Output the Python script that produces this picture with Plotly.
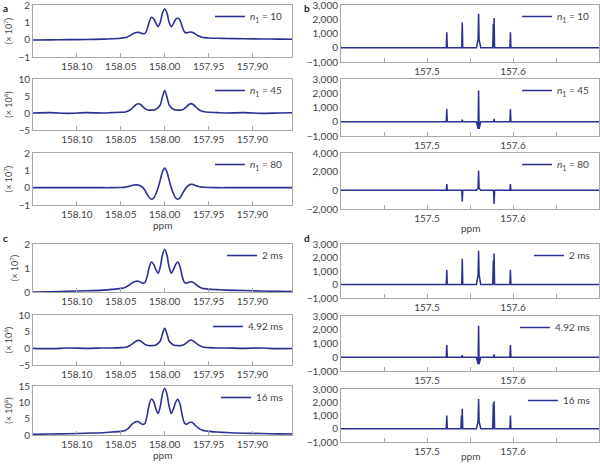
import plotly.graph_objects as go

# ---------------- data ----------------
PPM_L = [158.15, 158.13, 158.11, 158.09, 158.07, 158.06, 158.05,
         158.045, 158.0425, 158.04, 158.0375, 158.035, 158.0325, 158.03, 158.0275, 158.025, 158.0225,
         158.02, 158.0175, 158.015, 158.0125, 158.01, 158.0075, 158.005, 158.0025, 158.00,
         157.9975, 157.995, 157.9925, 157.99, 157.9875, 157.985, 157.9825, 157.98, 157.9775,
         157.975, 157.9725, 157.97, 157.9675, 157.965, 157.9625, 157.96, 157.9575, 157.955,
         157.95, 157.94, 157.93, 157.91, 157.89, 157.87, 157.85]

A1 = [-0.02, -0.01, 0.0, 0.01, 0.03, 0.05, 0.08,
      0.12, 0.16, 0.22, 0.30, 0.37, 0.41, 0.42, 0.39, 0.35, 0.36,
      0.60, 1.05, 1.29, 1.20, 0.95, 0.76, 1.00, 1.55, 1.77,
      1.55, 1.00, 0.75, 0.93, 1.17, 1.25, 1.12, 0.75, 0.45,
      0.39, 0.43, 0.44, 0.40, 0.32, 0.24, 0.18, 0.14, 0.12,
      0.10, 0.08, 0.07, 0.05, 0.04, 0.03, 0.02]
A2 = [0.0, 0.1, -0.1, 0.1, 0.0, 0.1, 0.2,
      0.3, 0.5, 0.8, 1.3, 1.9, 2.5, 2.7, 2.5, 1.9, 1.3,
      0.95, 0.85, 0.85, 0.9, 1.1, 1.6, 2.4, 4.8, 6.6,
      4.8, 2.4, 1.6, 1.1, 0.9, 0.85, 0.85, 0.95, 1.3,
      1.9, 2.5, 2.75, 2.5, 1.9, 1.3, 0.8, 0.5, 0.35,
      0.2, 0.1, 0.0, 0.1, -0.1, 0.0, 0.1]
A3 = [0.0, 0.0, 0.0, 0.0, 0.0, 0.0, 0.01,
      0.03, 0.06, 0.09, 0.13, 0.15, 0.16, 0.15, 0.10, 0.02, -0.15,
      -0.38, -0.58, -0.67, -0.60, -0.35, 0.0, 0.45, 0.92, 1.13,
      0.92, 0.45, 0.0, -0.35, -0.60, -0.67, -0.58, -0.38, -0.15,
      0.03, 0.14, 0.20, 0.18, 0.13, 0.08, 0.05, 0.03, 0.02,
      0.01, 0.0, 0.0, 0.0, 0.0, 0.0, 0.0]
C1 = [0.0, 0.01, 0.03, 0.05, 0.08, 0.11, 0.15,
      0.19, 0.24, 0.30, 0.37, 0.42, 0.45, 0.45, 0.41, 0.37, 0.40,
      0.65, 1.05, 1.25, 1.15, 0.93, 0.78, 1.05, 1.55, 1.78,
      1.55, 1.05, 0.78, 0.93, 1.15, 1.25, 1.05, 0.65, 0.40,
      0.37, 0.41, 0.43, 0.40, 0.33, 0.26, 0.20, 0.16, 0.14,
      0.12, 0.10, 0.08, 0.06, 0.04, 0.03, 0.02]
C2 = [0.0, -0.1, 0.1, 0.0, 0.1, 0.1, 0.2,
      0.3, 0.5, 0.8, 1.2, 1.7, 2.2, 2.4, 2.2, 1.7, 1.2,
      0.9, 0.8, 0.8, 0.85, 1.0, 1.5, 2.2, 4.4, 6.0,
      4.4, 2.2, 1.5, 1.0, 0.85, 0.8, 0.8, 0.9, 1.2,
      1.7, 2.2, 2.5, 2.2, 1.7, 1.2, 0.8, 0.5, 0.35,
      0.2, 0.1, 0.1, 0.0, 0.1, -0.1, 0.0]
C3 = [0.2, 0.3, 0.4, 0.55, 0.7, 0.9, 1.1,
      1.4, 1.8, 2.4, 3.2, 3.8, 4.1, 4.1, 3.6, 3.2, 3.6,
      6.0, 9.5, 11.0, 10.2, 8.0, 6.6, 8.8, 12.6, 14.3,
      12.6, 8.8, 6.6, 8.0, 10.1, 10.9, 9.4, 6.0, 3.7,
      3.3, 3.7, 4.0, 3.6, 2.9, 2.3, 1.8, 1.5, 1.3,
      1.1, 0.9, 0.75, 0.55, 0.45, 0.35, 0.3]

# right-hand spectra: peak positions, peak heights, base blob heights, twin-peak heights
SPIKE_PPM = [157.523, 157.541, 157.560, 157.578, 157.597]
B1_H = [1080, 1780, 2380, 2080, 1080]; B1_S = [0, 0, 560, 0, 0]; B1_T = [0, 0, 0, 1690, 0]
B2_H = [900, 150, 2200, 200, 900];    B2_S = [0, 0, -500, 0, 0]; B2_T = [0, 0, 0, 0, 0]
B3_H = [670, -1200, 2090, -1450, 670]; B3_S = [0, 0, 200, 0, 0]; B3_T = [0, 0, 0, 0, 0]
D1_H = [1090, 1910, 2490, 2290, 1090]; D1_S = [0, 0, 710, 0, 0]; D1_T = [0, 0, 0, 1780, 0]
D2_H = [890, 150, 2290, 200, 890];    D2_S = [0, 0, -500, 0, 0]; D2_T = [0, 0, 0, 0, 0]
D3_H = [1000, 1500, 2250, 2070, 1000]; D3_S = [0, 0, 560, 0, 0]; D3_T = [0, 1000, 0, 1900, 0]

LABELS_N = ["<i>n</i><sub>1</sub> = 10", "<i>n</i><sub>1</sub> = 45", "<i>n</i><sub>1</sub> = 80"]
LABELS_T = ["2 ms", "4.92 ms", "16 ms"]

XT_L = [158.10, 158.05, 158.00, 157.95, 157.90]
XT_L_TXT = ["158.10", "158.05", "158.00", "157.95", "157.90"]
XT_R = [157.45, 157.5, 157.55, 157.6, 157.65]
XT_R_TXT = ["", "157.5", "", "157.6", ""]

YT_A1 = [-1, 0, 1, 2]
YT_A2 = [-5, 0, 5, 10]
YT_C1 = [0, 1, 2]
YT_C3 = [0, 5, 10, 15]
YT_B = [-1000, 0, 1000, 2000, 3000]
YT_B3 = [-2000, 0, 2000, 4000]

# ---------------- styling / layout ----------------
W, H = 600, 464
COLOR = "#2b3190"
FONT = "Lato"
TXT = "#444444"
FRAME = "#a8a8a8"

LEFT_X = (33, 292)
RIGHT_X = (341, 599)
LEFT_ROWS = [(5, 57), (79, 130), (153, 205), (244, 292), (315, 365), (386, 435)]
RIGHT_ROWS = [(5, 62), (79, 136), (153, 209), (244, 298), (316, 371), (389, 442)]
PPM_Y = {("L", 2): 225, ("L", 5): 455, ("R", 2): 228, ("R", 5): 456}


def spikes(hs, ss, ts):
    xs, ys = [157.40], [0]
    for p, h, s, t in zip(SPIKE_PPM, hs, ss, ts):
        if t:
            xs += [p - 0.0016, p - 0.0009, p - 0.0005]
            ys += [0, t, 0]
        if s:
            xs += [p - 0.0025, p - 0.0006, p, p + 0.0006, p + 0.0025]
            ys += [0, s, h, s, 0]
        else:
            xs += [p - 0.0006, p, p + 0.0006]
            ys += [0, h, 0]
    xs.append(157.70)
    ys.append(0)
    return xs, ys


panels = [
    # side, row, x, y, yrange, yticks, ytitle, label
    ("L", 0, PPM_L, A1, [-1, 2], YT_A1, "(× 10<sup>7</sup>)", LABELS_N[0]),
    ("L", 1, PPM_L, A2, [-5, 10], YT_A2, "(× 10<sup>6</sup>)", LABELS_N[1]),
    ("L", 2, PPM_L, A3, [-1, 2], YT_A1, "(× 10<sup>7</sup>)", LABELS_N[2]),
    ("L", 3, PPM_L, C1, [0, 2], YT_C1, "(× 10<sup>7</sup>)", LABELS_T[0]),
    ("L", 4, PPM_L, C2, [-5, 10], YT_A2, "(× 10<sup>6</sup>)", LABELS_T[1]),
    ("L", 5, PPM_L, C3, [0, 15], YT_C3, "(× 10<sup>6</sup>)", LABELS_T[2]),
]
for row, (hs, ss, ts), yr, yt, lab in [
    (0, (B1_H, B1_S, B1_T), [-1000, 3000], YT_B, LABELS_N[0]),
    (1, (B2_H, B2_S, B2_T), [-1000, 3000], YT_B, LABELS_N[1]),
    (2, (B3_H, B3_S, B3_T), [-2000, 4000], YT_B3, LABELS_N[2]),
    (3, (D1_H, D1_S, D1_T), [-1000, 3000], YT_B, LABELS_T[0]),
    (4, (D2_H, D2_S, D2_T), [-1000, 3000], YT_B, LABELS_T[1]),
    (5, (D3_H, D3_S, D3_T), [-1000, 3000], YT_B, LABELS_T[2]),
]:
    xs, ys = spikes(hs, ss, ts)
    panels.append(("R", row, xs, ys, yr, yt, None, lab))

fig = go.Figure()
layout = dict(width=W, height=H, margin=dict(l=0, r=0, t=0, b=0, autoexpand=False),
              paper_bgcolor="white", plot_bgcolor="white",
              font=dict(family=FONT, size=10, color=TXT),
              showlegend=True, separators=".,")

annos = []
for i, (side, row, xs, ys, yr, yt, ytitle, lab) in enumerate(panels):
    n = i + 1
    sfx = "" if n == 1 else str(n)
    xpx = LEFT_X if side == "L" else RIGHT_X
    ypx = (LEFT_ROWS if side == "L" else RIGHT_ROWS)[row]
    xdom = [xpx[0] / W, xpx[1] / W]
    ydom = [1 - ypx[1] / H, 1 - ypx[0] / H]
    leg = "legend" + sfx
    fig.add_trace(go.Scatter(
        x=xs, y=ys, mode="lines", name=lab,
        line=dict(color=COLOR, width=1.6 if side == "L" else 1.5,
                  shape="spline" if side == "L" else "linear", smoothing=0.8 if side == "L" else None),
        xaxis="x" + sfx, yaxis="y" + sfx, legend=leg, hoverinfo="skip"))
    xax = dict(domain=xdom, anchor="y" + sfx, automargin=False,
               showgrid=False, zeroline=False, showline=True, mirror=True,
               linecolor=FRAME, linewidth=1,
               ticks="inside", ticklen=4, tickcolor=FRAME,
               ticklabeloverflow="allow",
               tickfont=dict(family=FONT, size=10, color=TXT))
    if side == "L":
        xax.update(range=[158.15, 157.855], tickmode="array", tickvals=XT_L, ticktext=XT_L_TXT)
    else:
        xax.update(range=[157.40, 157.70], tickmode="array", tickvals=XT_R, ticktext=XT_R_TXT)
    if (side, row) in PPM_Y:
        annos.append(dict(text="ppm", x=(xdom[0] + xdom[1]) / 2, y=1 - PPM_Y[(side, row)] / H,
                          xref="paper", yref="paper", xanchor="center", yanchor="middle",
                          showarrow=False, borderpad=0,
                          font=dict(family=FONT, size=10, color=TXT)))
    yax = dict(domain=ydom, anchor="x" + sfx, range=yr, automargin=False,
               showgrid=False, zeroline=False, showline=True, mirror=True,
               linecolor=FRAME, linewidth=1, ticks="",
               ticklabeloverflow="allow",
               tickmode="array", tickvals=yt,
               tickfont=dict(family=FONT, size=10, color=TXT))
    if side == "R":
        yax["tickformat"] = ",d"
    if ytitle:
        yax["title"] = dict(text=ytitle, font=dict(family=FONT, size=9, color=TXT), standoff=4)
    layout["xaxis" + sfx] = xax
    layout["yaxis" + sfx] = yax
    layout[leg] = dict(x=(xpx[1] - 4) / W, y=1 - (ypx[0] - 3) / H,
                       xanchor="right", yanchor="top",
                       bgcolor="rgba(0,0,0,0)", borderwidth=0,
                       font=dict(family=FONT, size=10, color=TXT),
                       itemwidth=30)

for letter, xp, yp in [("a", 1, 0), ("b", 302, 0), ("c", 1, 230), ("d", 302, 230)]:
    annos.append(dict(text="<b>%s</b>" % letter, x=xp / W, y=1 - yp / H, xref="paper", yref="paper",
                      xanchor="left", yanchor="top", showarrow=False,
                      font=dict(family=FONT, size=10, color="#222222")))
layout["annotations"] = annos

fig.update_layout(**layout)
fig.write_html("out.html", config={"displayModeBar": False, "staticPlot": True},
               post_script="document.body.style.margin='0';document.body.style.overflow='hidden';")
